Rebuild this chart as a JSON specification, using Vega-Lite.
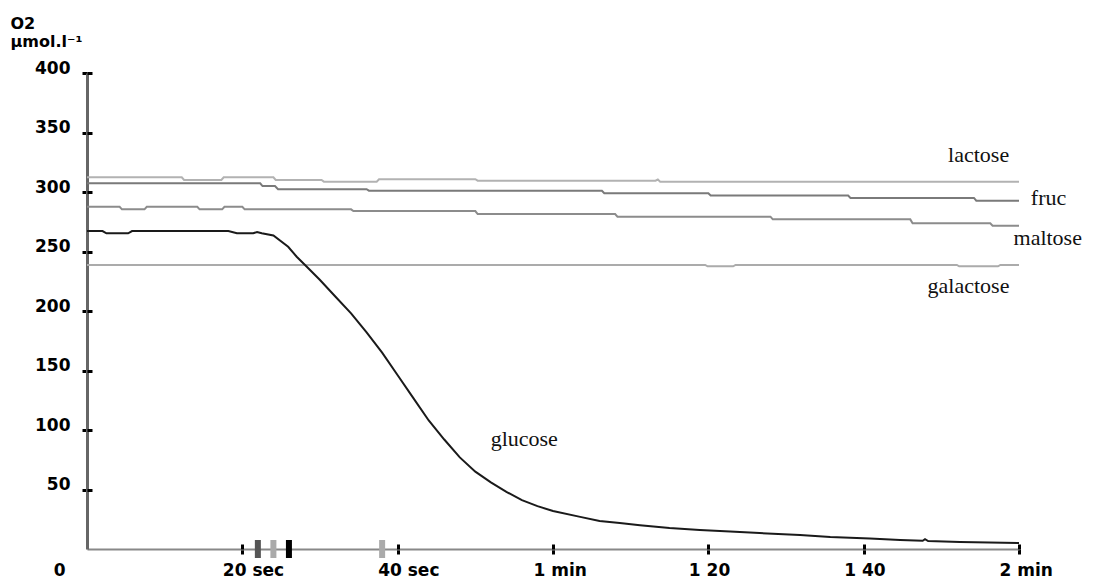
{
  "$schema": "https://vega.github.io/schema/vega-lite/v6.json",
  "width": 932,
  "height": 476,
  "autosize": {"type": "none"},
  "padding": {"left": 87, "top": 73, "right": 74, "bottom": 36},
  "background": "white",
  "config": {"view": {"stroke": null}, "axis": {"grid": false}},
  "datasets": {
    "curves": [
      {"sugar": "lactose", "t": 0, "o2": 312.4},
      {"sugar": "lactose", "t": 12.2, "o2": 312.4},
      {"sugar": "lactose", "t": 12.5, "o2": 310.1},
      {"sugar": "lactose", "t": 17.3, "o2": 310.1},
      {"sugar": "lactose", "t": 17.6, "o2": 312.4},
      {"sugar": "lactose", "t": 24.0, "o2": 312.4},
      {"sugar": "lactose", "t": 24.3, "o2": 310.1},
      {"sugar": "lactose", "t": 30.2, "o2": 310.1},
      {"sugar": "lactose", "t": 30.5, "o2": 308.7},
      {"sugar": "lactose", "t": 37.3, "o2": 308.7},
      {"sugar": "lactose", "t": 37.6, "o2": 310.7},
      {"sugar": "lactose", "t": 50.0, "o2": 310.7},
      {"sugar": "lactose", "t": 50.3, "o2": 309.5},
      {"sugar": "lactose", "t": 73.2, "o2": 309.5},
      {"sugar": "lactose", "t": 73.5, "o2": 310.5},
      {"sugar": "lactose", "t": 73.8, "o2": 308.7},
      {"sugar": "lactose", "t": 120, "o2": 308.7},
      {"sugar": "fruc", "t": 0, "o2": 307.3},
      {"sugar": "fruc", "t": 22.3, "o2": 307.3},
      {"sugar": "fruc", "t": 22.6, "o2": 305.0},
      {"sugar": "fruc", "t": 24.2, "o2": 305.0},
      {"sugar": "fruc", "t": 24.6, "o2": 302.3},
      {"sugar": "fruc", "t": 36.0, "o2": 302.3},
      {"sugar": "fruc", "t": 36.3, "o2": 301.1},
      {"sugar": "fruc", "t": 66.3, "o2": 301.0},
      {"sugar": "fruc", "t": 66.6, "o2": 299.0},
      {"sugar": "fruc", "t": 80.0, "o2": 299.0},
      {"sugar": "fruc", "t": 80.3, "o2": 297.0},
      {"sugar": "fruc", "t": 98.0, "o2": 297.0},
      {"sugar": "fruc", "t": 98.3, "o2": 295.0},
      {"sugar": "fruc", "t": 114.2, "o2": 295.0},
      {"sugar": "fruc", "t": 114.5, "o2": 292.7},
      {"sugar": "fruc", "t": 120, "o2": 292.7},
      {"sugar": "maltose", "t": 0, "o2": 287.6},
      {"sugar": "maltose", "t": 4.2, "o2": 287.6},
      {"sugar": "maltose", "t": 4.5, "o2": 285.4},
      {"sugar": "maltose", "t": 7.4, "o2": 285.4},
      {"sugar": "maltose", "t": 7.7, "o2": 287.6},
      {"sugar": "maltose", "t": 14.2, "o2": 287.6},
      {"sugar": "maltose", "t": 14.5, "o2": 285.4},
      {"sugar": "maltose", "t": 17.4, "o2": 285.4},
      {"sugar": "maltose", "t": 17.7, "o2": 287.6},
      {"sugar": "maltose", "t": 20.0, "o2": 287.6},
      {"sugar": "maltose", "t": 20.3, "o2": 285.4},
      {"sugar": "maltose", "t": 34.0, "o2": 285.4},
      {"sugar": "maltose", "t": 34.3, "o2": 284.0},
      {"sugar": "maltose", "t": 50.0, "o2": 284.0},
      {"sugar": "maltose", "t": 50.3, "o2": 281.5},
      {"sugar": "maltose", "t": 68.0, "o2": 281.5},
      {"sugar": "maltose", "t": 68.3, "o2": 279.3},
      {"sugar": "maltose", "t": 88.0, "o2": 279.3},
      {"sugar": "maltose", "t": 88.3, "o2": 277.0},
      {"sugar": "maltose", "t": 106.0, "o2": 277.0},
      {"sugar": "maltose", "t": 106.3, "o2": 273.7},
      {"sugar": "maltose", "t": 116.3, "o2": 273.7},
      {"sugar": "maltose", "t": 116.6, "o2": 271.7},
      {"sugar": "maltose", "t": 120, "o2": 271.7},
      {"sugar": "galactose", "t": 0, "o2": 238.7},
      {"sugar": "galactose", "t": 79.6, "o2": 238.7},
      {"sugar": "galactose", "t": 79.9, "o2": 237.6},
      {"sugar": "galactose", "t": 83.2, "o2": 237.6},
      {"sugar": "galactose", "t": 83.5, "o2": 238.7},
      {"sugar": "galactose", "t": 112.0, "o2": 238.7},
      {"sugar": "galactose", "t": 112.3, "o2": 237.6},
      {"sugar": "galactose", "t": 117.3, "o2": 237.6},
      {"sugar": "galactose", "t": 117.6, "o2": 238.7},
      {"sugar": "galactose", "t": 120, "o2": 238.7},
      {"sugar": "glucose", "t": 0, "o2": 267.2},
      {"sugar": "glucose", "t": 2.0, "o2": 267.2},
      {"sugar": "glucose", "t": 2.5, "o2": 265.3},
      {"sugar": "glucose", "t": 5.3, "o2": 265.3},
      {"sugar": "glucose", "t": 5.8, "o2": 267.2},
      {"sugar": "glucose", "t": 18.2, "o2": 267.2},
      {"sugar": "glucose", "t": 19.3, "o2": 265.3},
      {"sugar": "glucose", "t": 21.4, "o2": 265.3},
      {"sugar": "glucose", "t": 21.9, "o2": 266.4},
      {"sugar": "glucose", "t": 22.5, "o2": 265.3},
      {"sugar": "glucose", "t": 24.0, "o2": 263.4},
      {"sugar": "glucose", "t": 25.9, "o2": 254.0},
      {"sugar": "glucose", "t": 27.0, "o2": 245.6},
      {"sugar": "glucose", "t": 28.3, "o2": 237.2},
      {"sugar": "glucose", "t": 30.0, "o2": 226.0},
      {"sugar": "glucose", "t": 32.0, "o2": 212.0},
      {"sugar": "glucose", "t": 34.0, "o2": 198.0},
      {"sugar": "glucose", "t": 36.0, "o2": 182.0},
      {"sugar": "glucose", "t": 38.0, "o2": 165.0},
      {"sugar": "glucose", "t": 40.0, "o2": 146.0},
      {"sugar": "glucose", "t": 42.0, "o2": 127.0},
      {"sugar": "glucose", "t": 44.0, "o2": 108.0},
      {"sugar": "glucose", "t": 46.0, "o2": 92.0},
      {"sugar": "glucose", "t": 48.0, "o2": 77.0},
      {"sugar": "glucose", "t": 50.0, "o2": 65.0},
      {"sugar": "glucose", "t": 52.0, "o2": 56.0},
      {"sugar": "glucose", "t": 54.0, "o2": 48.0},
      {"sugar": "glucose", "t": 56.0, "o2": 41.0},
      {"sugar": "glucose", "t": 58.0, "o2": 36.0},
      {"sugar": "glucose", "t": 60.0, "o2": 32.0},
      {"sugar": "glucose", "t": 63.5, "o2": 27.0},
      {"sugar": "glucose", "t": 66.0, "o2": 23.5},
      {"sugar": "glucose", "t": 68.6, "o2": 21.8},
      {"sugar": "glucose", "t": 71.2, "o2": 20.0},
      {"sugar": "glucose", "t": 75.0, "o2": 17.6},
      {"sugar": "glucose", "t": 78.9, "o2": 16.0},
      {"sugar": "glucose", "t": 82.8, "o2": 14.7},
      {"sugar": "glucose", "t": 86.6, "o2": 13.4},
      {"sugar": "glucose", "t": 91.8, "o2": 11.8},
      {"sugar": "glucose", "t": 95.7, "o2": 10.0},
      {"sugar": "glucose", "t": 100.8, "o2": 8.8},
      {"sugar": "glucose", "t": 104.7, "o2": 7.6},
      {"sugar": "glucose", "t": 107.6, "o2": 6.9},
      {"sugar": "glucose", "t": 107.9, "o2": 8.2},
      {"sugar": "glucose", "t": 108.3, "o2": 6.7},
      {"sugar": "glucose", "t": 112.4, "o2": 5.9},
      {"sugar": "glucose", "t": 120, "o2": 5.0}
    ],
    "markers": [
      {"t": 22, "id": "a"},
      {"t": 24, "id": "b"},
      {"t": 26, "id": "c"},
      {"t": 38, "id": "d"}
    ],
    "labels": [
      {"label": "lactose", "t": 114.8, "o2": 325.2},
      {"label": "fruc", "t": 123.8, "o2": 289.1},
      {"label": "maltose", "t": 123.7, "o2": 255.5},
      {"label": "galactose", "t": 113.5, "o2": 215.1},
      {"label": "glucose", "t": 56.3, "o2": 86.6}
    ]
  },
  "layer": [
    {
      "data": {"name": "curves"},
      "mark": {"type": "line", "interpolate": "linear"},
      "encoding": {
        "x": {
          "field": "t", "type": "quantitative",
          "scale": {"domain": [0, 120], "nice": false, "zero": false},
          "axis": {
            "orient": "bottom",
            "title": null,
            "values": [0, 20, 40, 60, 80, 100, 120],
            "labelExpr": "datum.value == 0 ? '0' : datum.value == 20 ? '20 sec' : datum.value == 40 ? '40 sec' : datum.value == 60 ? '1 min' : datum.value == 80 ? '1 20' : datum.value == 100 ? '1 40' : '2 min'",
            "domainColor": "#888888",
            "domainWidth": 2,
            "tickColor": "#000000",
            "tickWidth": 3,
            "tickSize": 5,
            "tickOpacity": {"condition": {"test": "datum.value == 0", "value": 0}, "value": 1},
            "labelFont": "DejaVu Sans",
            "labelFontWeight": "bold",
            "labelFontSize": 17,
            "labelColor": "#000000",
            "labelAlign": {"condition": {"test": "datum.value == 0", "value": "right"}, "value": "left"},
            "labelOffset": {"condition": {"test": "datum.value == 0", "value": -22}, "value": -20},
            "labelBaseline": "top",
            "labelPadding": 8,
            "labelFlush": false,
            "labelOverlap": false
          }
        },
        "y": {
          "field": "o2", "type": "quantitative",
          "scale": {"domain": [0, 400], "nice": false},
          "axis": {
            "orient": "left",
            "values": [50, 100, 150, 200, 250, 300, 350, 400],
            "title": ["O2", "µmol.l⁻¹"],
            "titleAngle": 0,
            "titleAlign": "left",
            "titleBaseline": "top",
            "titleX": -77,
            "titleY": -58,
            "titleFont": "DejaVu Sans",
            "titleFontWeight": "bold",
            "titleFontSize": 16,
            "titleLineHeight": 18,
            "titleColor": "#000000",
            "domainColor": "#666666",
            "domainWidth": 3,
            "tickColor": "#000000",
            "tickWidth": 3,
            "tickSize": 5,
            "labelFont": "DejaVu Sans",
            "labelFontWeight": "bold",
            "labelFontSize": 17,
            "labelColor": "#000000",
            "labelPadding": 12,
            "labelOffset": -5,
            "labelOverlap": false
          }
        },
        "color": {
          "field": "sugar", "type": "nominal",
          "scale": {"domain": ["lactose", "fruc", "maltose", "galactose", "glucose"], "range": ["#b2b2b2", "#7a7a7a", "#8c8c8c", "#ababab", "#1a1a1a"]},
          "legend": null
        },
        "size": {
          "field": "sugar", "type": "nominal",
          "scale": {"domain": ["lactose", "fruc", "maltose", "galactose", "glucose"], "range": [2, 2, 2, 2, 1.3]},
          "legend": null
        }
      }
    },
    {
      "data": {"name": "markers"},
      "mark": {"type": "tick", "orient": "vertical", "size": 18, "thickness": 6, "opacity": 1},
      "encoding": {
        "x": {
          "field": "t", "type": "quantitative",
          "scale": {"domain": [0, 120], "nice": false, "zero": false},
          "axis": {
            "orient": "top",
            "offset": -476,
            "title": null,
            "values": [20, 40, 60, 80, 100, 120],
            "labels": false,
            "domain": false,
            "tickColor": "#000000",
            "tickWidth": 3,
            "tickSize": 5
          }
        },
        "y": {
          "datum": 0, "type": "quantitative",
          "scale": {"domain": [0, 400], "nice": false},
          "axis": {
            "orient": "right",
            "offset": -932,
            "title": null,
            "values": [50, 100, 150, 200, 250, 300, 350, 400],
            "labels": false,
            "domain": false,
            "tickColor": "#000000",
            "tickWidth": 3,
            "tickSize": 5
          }
        },
        "color": {
          "field": "id", "type": "nominal",
          "scale": {"domain": ["a", "b", "c", "d"], "range": ["#555555", "#aaaaaa", "#000000", "#aaaaaa"]},
          "legend": null
        }
      }
    },
    {
      "data": {"name": "labels"},
      "mark": {"type": "text", "font": "Liberation Serif", "fontSize": 22, "align": "center", "baseline": "alphabetic", "color": "#111111"},
      "encoding": {
        "x": {"field": "t", "type": "quantitative", "scale": {"domain": [0, 120], "nice": false, "zero": false}, "axis": null},
        "y": {"field": "o2", "type": "quantitative", "scale": {"domain": [0, 400], "nice": false}, "axis": null},
        "text": {"field": "label", "type": "nominal"}
      }
    }
  ],
  "resolve": {
    "axis": {"x": "independent", "y": "independent"},
    "scale": {"color": "independent"}
  }
}
